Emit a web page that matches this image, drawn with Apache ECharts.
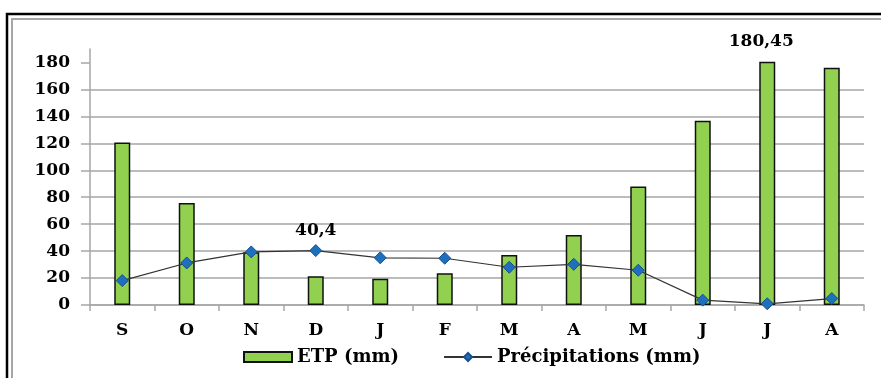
<!DOCTYPE html>
<html>
<head>
<meta charset="utf-8">
<script src="https://cdn.jsdelivr.net/npm/echarts@6/dist/echarts.min.js"></script>
<style>
  html, body { margin: 0; padding: 0; background: #fff; }
  #chart { width: 881px; height: 378px; }
</style>
</head>
<body>
<div id="chart"></div>
<script>
// Monthly values, September to August
const months = ['S', 'O', 'N', 'D', 'J', 'F', 'M', 'A', 'M', 'J', 'J', 'A'];
const etp = [120.6, 75.7, 39.2, 21.3, 19.4, 23.6, 37.2, 52, 88, 136.7, 180.45, 176.1];
const precipitations = [18.1, 31.2, 39.4, 40.4, 35, 34.7, 28, 30.2, 25.8, 3.6, 0.9, 4.8];
const yTicks = [0, 20, 40, 60, 80, 100, 120, 140, 160, 180];

// Only these points carry a value label
const labelledEtp = 10;
const labelledPrecip = 3;

const FONT = 'DejaVu Serif';
const fmt = v => String(v).replace('.', ',');

const chart = echarts.init(document.getElementById('chart'), null, { renderer: 'canvas' });

chart.setOption({
  backgroundColor: '#ffffff',
  animation: false,
  graphic: [
    { type: 'rect', shape: { x: 7, y: 14, width: 900, height: 400 },
      style: { fill: 'none', stroke: '#000', lineWidth: 2.5 }, silent: true },
    { type: 'rect', shape: { x: 12, y: 19, width: 900, height: 400 },
      style: { fill: 'none', stroke: '#a6a6a6', lineWidth: 2 }, silent: true }
  ],
  grid: { left: 90, right: 17, top: 49, bottom: 73, containLabel: false },
  legend: {
    left: 238, top: 343,
    itemGap: 44, itemWidth: 48, itemHeight: 10,
    textStyle: { fontFamily: FONT, fontWeight: 'bold', fontSize: 18, color: '#000' },
    data: [
      { name: 'ETP (mm)', icon: 'rect' },
      { name: 'Précipitations (mm)' }
    ]
  },
  xAxis: {
    type: 'category',
    data: months,
    axisLine: { lineStyle: { color: '#a6a6a6', width: 1.5 } },
    axisTick: { show: true, inside: false, length: 6, lineStyle: { color: '#a6a6a6', width: 1.5 } },
    axisLabel: { margin: 17, fontFamily: FONT, fontWeight: 'bold', fontSize: 17, color: '#000' },
    splitLine: { show: false }
  },
  yAxis: {
    type: 'value',
    min: 0, max: 190, interval: 20,
    axisLine: { show: true, lineStyle: { color: '#a6a6a6', width: 1.5 } },
    axisTick: { show: true, length: 9, customValues: yTicks, lineStyle: { color: '#a6a6a6', width: 1.5 } },
    axisLabel: { margin: 20, customValues: yTicks, fontFamily: FONT, fontWeight: 'bold', fontSize: 17, color: '#000' },
    splitLine: { show: true, showMaxLine: false, lineStyle: { color: '#a6a6a6', width: 1.5 } }
  },
  series: [
    {
      name: 'ETP (mm)',
      type: 'bar',
      data: etp.map((v, i) => i === labelledEtp
        ? { value: v, label: { show: true } }
        : v),
      barWidth: 16,
      itemStyle: { color: '#92d050', borderColor: '#111', borderWidth: 1.5 },
      label: {
        show: false, position: 'top', distance: 12, offset: [-6, 0],
        formatter: p => fmt(p.value),
        fontFamily: FONT, fontWeight: 'bold', fontSize: 17, color: '#000'
      },
      z: 2
    },
    {
      name: 'Précipitations (mm)',
      type: 'line',
      data: precipitations.map((v, i) => i === labelledPrecip
        ? { value: v, label: { show: true } }
        : v),
      symbol: 'diamond',
      symbolSize: 12,
      showAllSymbol: true,
      lineStyle: { color: '#333', width: 1.2 },
      itemStyle: { color: '#1f6fbf', borderColor: '#1a4f8a', borderWidth: 1 },
      label: {
        show: false, position: 'top', distance: 5,
        formatter: p => fmt(p.value),
        fontFamily: FONT, fontWeight: 'bold', fontSize: 17, color: '#000'
      },
      z: 3
    }
  ]
});
</script>
</body>
</html>
